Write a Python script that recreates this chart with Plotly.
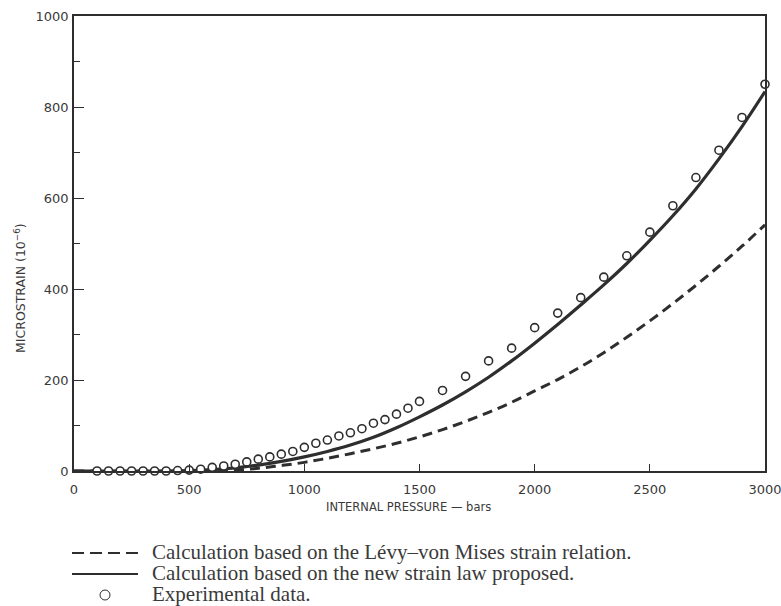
import plotly.graph_objects as go

# ---------------- data ----------------
exp_x = [100, 150, 200, 250, 300, 350, 400, 450, 500, 550, 600, 650, 700, 750, 800,
         850, 900, 950, 1000, 1050, 1100, 1150, 1200, 1250, 1300, 1350, 1400, 1450, 1500,
         1600, 1700, 1800, 1900, 2000, 2100, 2200, 2300, 2400, 2500, 2600, 2700, 2800,
         2900, 3000]
exp_y = [0, 0, 0, 0, 0, 0, 0, 1, 2, 4, 8, 11, 15, 20, 26,
         31, 37, 43, 52, 61, 68, 77, 84, 93, 105, 113, 125, 138, 153,
         177, 208, 242, 270, 315, 347, 381, 426, 473, 525, 583, 645, 705,
         777, 850]

new_x = [0, 200, 400, 500, 600, 700, 800, 900, 1000, 1100, 1200, 1300, 1400, 1500,
         1600, 1700, 1800, 1900, 2000, 2100, 2200, 2300, 2400, 2500, 2600, 2700,
         2800, 2900, 3000]
new_y = [0, 0, 0, 1, 3, 7, 13, 21, 31, 43, 57, 74, 95, 119,
         145, 174, 206, 242, 281, 322, 365, 409, 456, 507, 561, 620,
         686, 757, 834]

levy_x = [0, 600, 700, 800, 900, 1000, 1100, 1200, 1300, 1400, 1500, 1600, 1700,
          1800, 1900, 2000, 2100, 2200, 2300, 2400, 2500, 2600, 2700, 2800, 2900, 3000]
levy_y = [0, 0, 2, 6, 12, 19, 28, 38, 49, 61, 75, 91, 109,
          129, 151, 176, 201, 229, 260, 294, 330, 368, 408, 450, 494, 541]

x_ticks = [0, 500, 1000, 1500, 2000, 2500, 3000]
y_ticks = [0, 200, 400, 600, 800, 1000]

x_title = "INTERNAL PRESSURE — bars"
y_title = "MICROSTRAIN (10<sup>−6</sup>)"
legend_texts = [
    "Calculation based on the Lévy–von Mises strain relation.",
    "Calculation based on the new strain law proposed.",
    "Experimental data.",
]

# ---------------- layout constants ----------------
W, H = 781, 606
ML, MR, MT, MB = 74, 16, 16, 135
PW, PH = W - ML - MR, H - MT - MB
INK = "#2e2e2e"
TXT = "#3a3a3a"


def px(xp):
    return (xp - ML) / PW


def py(yp):
    return (H - MB - yp) / PH


fig = go.Figure()

fig.add_trace(go.Scatter(x=levy_x, y=levy_y, mode="lines",
                         line=dict(color=INK, width=3, dash="10px,6px"),
                         line_shape="spline", showlegend=False))
fig.add_trace(go.Scatter(x=new_x, y=new_y, mode="lines",
                         line=dict(color=INK, width=3.2),
                         line_shape="spline", showlegend=False))
fig.add_trace(go.Scatter(x=exp_x, y=exp_y, mode="markers",
                         marker=dict(symbol="circle", size=8, color="white",
                                     line=dict(color=INK, width=1.6)),
                         cliponaxis=False, showlegend=False))

axis_font = dict(family="DejaVu Sans", size=13, color=TXT)

fig.update_xaxes(range=[0, 3000], tickvals=x_ticks, ticktext=[str(v) for v in x_ticks],
                 showline=True, linecolor=INK, linewidth=1.5, mirror=True,
                 ticks="inside", ticklen=7, tickwidth=1.2, tickcolor=INK,
                 showgrid=False, zeroline=False, tickfont=axis_font,
                 ticklabelstandoff=6, ticklabeloverflow="allow", automargin=False)
fig.update_yaxes(range=[0, 1000], tickvals=y_ticks, ticktext=[str(v) for v in y_ticks],
                 showline=True, linecolor=INK, linewidth=1.5, mirror=True,
                 ticks="inside", ticklen=10, tickwidth=1.2, tickcolor=INK,
                 minor=dict(dtick=100, ticks="inside", ticklen=6, tickwidth=1.2,
                            tickcolor=INK, showgrid=False),
                 showgrid=False, zeroline=False, tickfont=axis_font,
                 ticklabelstandoff=1, ticklabeloverflow="allow", automargin=False)

shapes = []
annotations = []
# axis titles
annotations.append(dict(text=x_title, xref="paper", yref="paper",
                        x=px(408), y=py(507), xanchor="center", yanchor="middle",
                        showarrow=False,
                        font=dict(family="DejaVu Sans", size=11.5, color=TXT)))
annotations.append(dict(text=y_title, xref="paper", yref="paper",
                        x=px(20), y=py(288), xanchor="center", yanchor="middle",
                        textangle=-90, showarrow=False,
                        font=dict(family="DejaVu Sans", size=12.5, color=TXT)))

leg_rows = [552, 573, 594]
# dashed sample
shapes.append(dict(type="line", xref="paper", yref="paper",
                   x0=px(72), x1=px(138), y0=py(leg_rows[0] + 1), y1=py(leg_rows[0] + 1),
                   line=dict(color=INK, width=1.8, dash="12px,6px")))
# solid sample
shapes.append(dict(type="line", xref="paper", yref="paper",
                   x0=px(72), x1=px(138), y0=py(leg_rows[1] + 1), y1=py(leg_rows[1] + 1),
                   line=dict(color=INK, width=1.8)))
# circle sample
shapes.append(dict(type="circle", xref="paper", yref="paper",
                   x0=px(100), x1=px(110), y0=py(leg_rows[2] + 6), y1=py(leg_rows[2] - 4),
                   line=dict(color=INK, width=1)))
for row, t in zip(leg_rows, legend_texts):
    annotations.append(dict(text=t, xref="paper", yref="paper",
                            x=px(150), y=py(row), xanchor="left", yanchor="middle",
                            showarrow=False,
                            font=dict(family="Liberation Serif", size=21, color=TXT)))

fig.update_layout(width=W, height=H,
                  margin=dict(l=ML, r=MR, t=MT, b=MB),
                  paper_bgcolor="white", plot_bgcolor="white",
                  shapes=shapes, annotations=annotations, showlegend=False)

fig.write_html("out.html")
